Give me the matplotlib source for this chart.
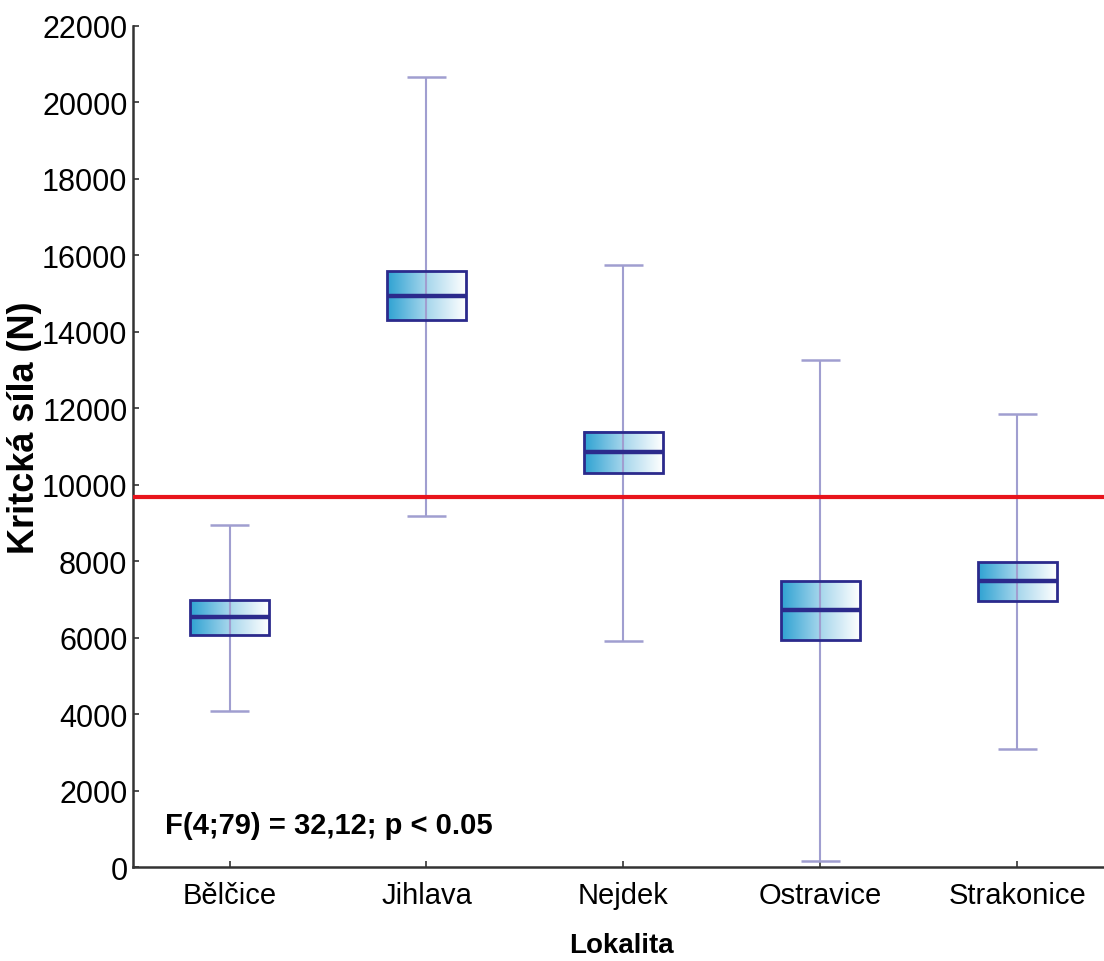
import numpy as np
import matplotlib
matplotlib.use("Agg")
import matplotlib.pyplot as plt
from matplotlib.colors import LinearSegmentedColormap

categories = ["Bělčice", "Jihlava", "Nejdek", "Ostravice", "Strakonice"]
whisker_low = [4080, 9180, 5910, 160, 3090]
q1 = [6070, 14310, 10300, 5940, 6960]
median = [6540, 14940, 10850, 6720, 7480]
q3 = [6980, 15590, 11380, 7480, 7980]
whisker_high = [8950, 20660, 15750, 13260, 11850]
reference_value = 9680
yticks = list(range(0, 22001, 2000))
annotation = "F(4;79) = 32,12; p < 0.05"

plt.rcParams['font.family'] = ['Liberation Sans', 'DejaVu Sans']

fig = plt.figure(figsize=(11.04, 9.62), dpi=100)
ax = fig.add_axes([0.1205, 0.0977, 0.8795, 0.8743])

navy = "#2b2a8c"
whisk = "#a09ed0"
cmap = LinearSegmentedColormap.from_list("g", ["#2ea2d2", "#a6d6ec", "#ffffff"])
grad = np.linspace(0, 1, 256).reshape(1, -1)

bw = 0.4
cw = 0.2
x = np.arange(len(categories))
for i in range(len(categories)):
    xi = x[i]
    ax.imshow(grad, cmap=cmap, aspect='auto',
              extent=(xi - bw / 2, xi + bw / 2, q1[i], q3[i]), zorder=2)
    ax.vlines(xi, whisker_low[i], whisker_high[i], color=whisk, lw=1.5, zorder=3)
    ax.hlines([whisker_low[i], whisker_high[i]], xi - cw / 2, xi + cw / 2,
              color=whisk, lw=1.8, zorder=3)
    ax.add_patch(plt.Rectangle((xi - bw / 2, q1[i]), bw, q3[i] - q1[i],
                               fill=False, edgecolor=navy, lw=2.0, zorder=4))
    ax.hlines(median[i], xi - bw / 2, xi + bw / 2, color=navy, lw=3.2, zorder=4)

ax.axhline(reference_value, color="#e8141c", lw=3.0, zorder=5)

ax.set_xlim(-0.49, 4.44)
ax.set_ylim(0, 22000)
ax.set_xticks(x)
ax.set_xticklabels(categories, fontsize=21)
ax.set_yticks(yticks)
ax.set_yticklabels([str(v) for v in yticks], fontsize=22)
ax.tick_params(axis='both', direction='in', length=4, width=1.2, color="#333333")
ax.tick_params(axis='x', pad=10)
ax.tick_params(axis='y', pad=4)

for s in ['top', 'right']:
    ax.spines[s].set_visible(False)
for s in ['left', 'bottom']:
    ax.spines[s].set_color("#333333")
    ax.spines[s].set_linewidth(1.8)

ax.set_ylabel("Kritcká síla (N)", fontsize=26, fontweight='bold')
ax.yaxis.set_label_coords(-0.094, 0.523)
ax.set_xlabel("Lokalita", fontsize=20, fontweight='bold')
ax.xaxis.set_label_coords(0.503, -0.077)

ax.text(0.033, 0.05, annotation, transform=ax.transAxes, fontsize=21, fontweight='bold',
        ha='left', va='center')

fig.savefig("out.png", dpi=100)
